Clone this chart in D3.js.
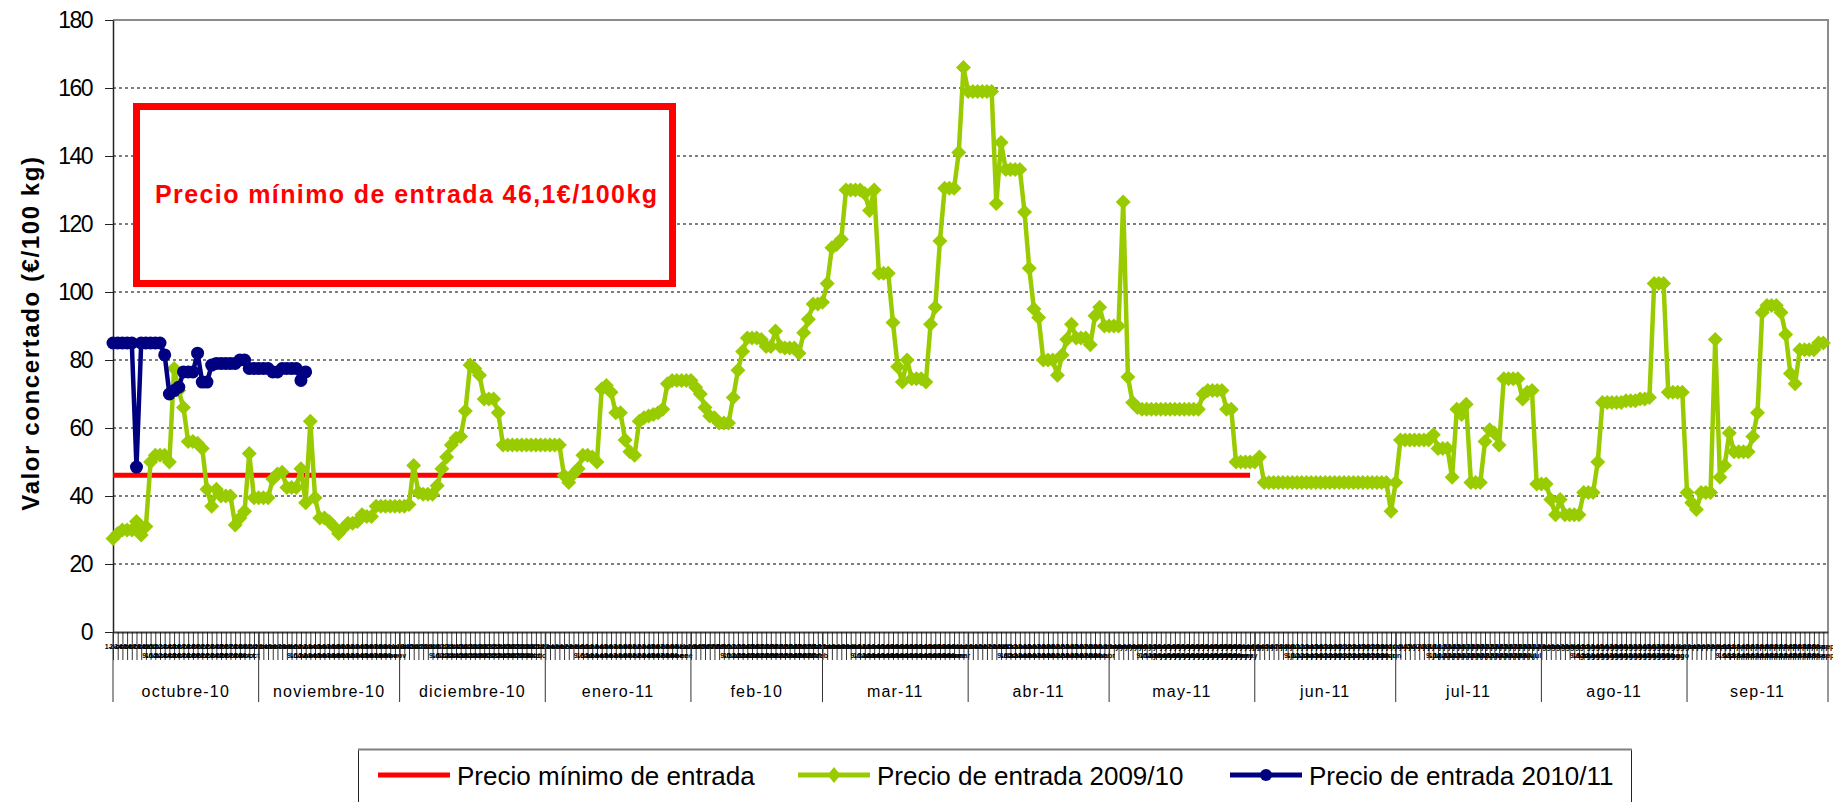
<!DOCTYPE html>
<html>
<head>
<meta charset="utf-8">
<script src="https://cdnjs.cloudflare.com/ajax/libs/d3/7.8.5/d3.min.js"></script>
<style>
    body { margin: 0; background: #fff; }
    text { font-family: "Liberation Sans", Arial, sans-serif; }
</style>
</head>
<body>
<svg id="chart" width="1833" height="802"></svg>
<script>
// etiquetas de los meses (segundo nivel del eje de categorias)
var meses = ["octubre-10", "noviembre-10", "diciembre-10", "enero-11", "feb-10", "mar-11",
             "abr-11", "may-11", "jun-11", "jul-11", "ago-11", "sep-11"];
var abrevMes = ["ene", "feb", "mar", "abr", "may", "jun", "jul", "ago", "sep", "oct", "nov", "dic"];

// Precio de entrada 2009/10, un valor por dia
var oct0910 = [27.5, 29, 30, 30, 30, 32.5, 28.5, 31, 50, 52, 52, 52, 50, 77.5, 71, 66, 56, 56, 55.5, 54,
               42, 37, 42, 40, 40, 40, 31.5, 33.5, 35.5, 52.5, 39.5];
var nov0910 = [39.5, 39.5, 39.5, 45, 46.5, 47, 42.5, 42.5, 42.5, 48, 38, 62, 39.5, 33.5, 33.5, 32.5, 31, 29, 30.5, 32,
               32, 32.5, 34.5, 34, 34, 37, 37, 37, 37, 37];
var dic0910 = [37, 37, 37.5, 49, 41, 40.5, 40.5, 40.5, 43, 48, 51.5, 55, 57, 57.5, 65, 78.5, 77.5, 75.5, 68.5, 68.5,
               68.5, 64.5, 55, 55, 55, 55, 55, 55, 55, 55, 55];
var ene0910 = [55, 55, 55, 55, 46, 44, 46.5, 48, 52, 52, 51.5, 50, 71.5, 72.5, 70.5, 64.5, 64.5, 56.5, 53, 52,
               62, 63, 63.5, 64, 64.5, 65.5, 73, 74, 74, 74, 74];
var feb0910 = [74, 72, 70, 66, 63.5, 63, 61.5, 61.5, 61.5, 69, 77, 82.5, 86.5, 86.5, 86.5, 86, 84, 84, 88.5, 84,
               83.5, 83.5, 83.5, 82, 88, 92, 96.5, 96.5];
var mar0910 = [97, 102.5, 113, 114, 115.5, 130, 130, 130, 130, 129, 124, 130, 105.5, 105.5, 105.5, 91, 78, 73.5, 80, 74.5,
               74.5, 74.5, 73.5, 90.5, 95.5, 115, 130.5, 130.5, 130.5, 141, 166];
var abr0910 = [159, 159, 159, 159, 159, 159, 126, 144, 136, 136, 136, 136, 123.5, 107, 95, 92.5, 80, 80, 80, 75.5,
               81.5, 86, 90.5, 86.5, 86.5, 86.5, 84.5, 93, 95.5, 90];
var may0910 = [90, 90, 90, 126.5, 75, 67.5, 66, 65.5, 65.5, 65.5, 65.5, 65.5, 65.5, 65.5, 65.5, 65.5, 65.5, 65.5, 65.5, 65.5,
               70, 71, 71, 71, 71, 65.5, 65.5, 50, 50, 50, 50];
var jun0910 = [50, 51.5, 44, 44, 44, 44, 44, 44, 44, 44, 44, 44, 44, 44, 44, 44, 44, 44, 44, 44,
               44, 44, 44, 44, 44, 44, 44, 44, 44, 35.5];
var jul0910 = [44, 56.5, 56.5, 56.5, 56.5, 56.5, 56.5, 56.5, 58, 54, 54, 54, 45.5, 65.5, 64, 67, 44, 44, 44, 56,
               59.5, 58.5, 55, 74.5, 74.5, 74.5, 74.5, 68.5, 70.5, 71, 43.5];
var ago0910 = [43.5, 43.5, 39, 34.5, 39, 34.5, 34.5, 34.5, 34.5, 41, 41, 41, 50, 67.5, 67.5, 67.5, 67.5, 67.5, 68, 68,
               68, 68.5, 68.5, 69, 102.5, 102.5, 102.5, 70.5, 70.5, 70.5, 70.5];
var sep0910 = [41, 38, 36, 41, 41, 41, 86, 45.5, 49, 58.5, 53, 53, 53, 53, 57.5, 64.5, 94, 96, 96, 96,
               94, 87.5, 76, 73, 83, 83, 83, 83, 85, 85];

// Precio de entrada 2010/11 (solo hasta principios de noviembre)
var precio1011 = [85, 85, 85, 85, 85, 48.5, 85, 85, 85, 85, 85, 81.5, 70, 71, 72, 76.5, 76.5, 76.5, 82, 73.5,
                  73.5, 78.5, 79, 79, 79, 79, 79, 80, 80, 77.5, 77.5, 77.5, 77.5, 77.5, 76.5, 76.5, 77.5, 77.5, 77.5, 77.5,
                  74, 76.5];

var precioMinimo = 46.1;
var diasPrecioMinimo = 243;   // octubre a mayo
var ticksY = [0, 20, 40, 60, 80, 100, 120, 140, 160, 180];

var precio0910 = [].concat(oct0910, nov0910, dic0910, ene0910, feb0910, mar0910,
                           abr0910, may0910, jun0910, jul0910, ago0910, sep0910);

var gfx = {};

function initialise() {
    gfx.svg = d3.select("#chart");
    gfx.inicio = new Date(Date.UTC(2010, 9, 1));
    gfx.fin = new Date(Date.UTC(2011, 9, 1));
    gfx.dias = d3.utcDay.range(gfx.inicio, gfx.fin);
    gfx.x = d3.scaleUtc().domain([gfx.inicio, gfx.fin]).range([113, 1828]);
    gfx.y = d3.scaleLinear().domain([0, 180]).range([632, 20]);

    gfx.svg.append("rect").attr("width", 1833).attr("height", 802).attr("fill", "#fff");

    drawGrid();
    drawAxes();
    drawBox();
    drawSeries();
    drawLegend();
}

function drawGrid() {
    var y = gfx.y;
    gfx.svg.append("g").attr("class", "grid")
        .selectAll("line")
        .data(ticksY.filter(d => d > 0 && d < 180))
        .enter().append("line")
        .attr("x1", 113).attr("x2", 1828)
        .attr("y1", d => y(d)).attr("y2", d => y(d))
        .attr("stroke", "#000").attr("stroke-width", 1)
        .attr("stroke-dasharray", "3,3");

    // borde superior y derecho del area de trazado
    gfx.svg.append("path")
        .attr("d", "M113," + gfx.y(180) + "H1828V632")
        .attr("fill", "none").attr("stroke", "#8c8c8c").attr("stroke-width", 2);
}

function drawAxes() {
    var x = gfx.x, y = gfx.y;

    var yAxis = gfx.svg.append("g")
        .attr("transform", "translate(113,0)")
        .call(d3.axisLeft(y).tickValues(ticksY).tickSize(8).tickSizeOuter(0).tickPadding(13));
    yAxis.select(".domain").attr("stroke", "#222").attr("stroke-width", 1.5);
    yAxis.selectAll(".tick line").attr("stroke", "#222");
    yAxis.selectAll(".tick text")
        .attr("font-size", 23).attr("fill", "#000")
        .attr("letter-spacing", "-1.5px")
        .attr("font-family", "Liberation Sans, Arial, sans-serif");

    gfx.svg.append("text")
        .attr("transform", "translate(39,333) rotate(-90)")
        .attr("text-anchor", "middle")
        .attr("font-size", 24).attr("font-weight", "bold")
        .attr("letter-spacing", "1.6px")
        .text("Valor concertado (€/100 kg)");

    // eje de categorias: una marca por dia
    var xAxis = gfx.svg.append("g")
        .attr("transform", "translate(0,632)")
        .call(d3.axisBottom(x).tickValues(gfx.dias).tickSize(28).tickSizeOuter(0).tickFormat(""));
    xAxis.select(".domain").attr("stroke", "#444").attr("stroke-width", 2);
    xAxis.selectAll(".tick line").attr("stroke", "#000").attr("stroke-width", 0.8);

    // etiquetas diarias diminutas (se solapan como en el original)
    var etiquetas = gfx.svg.append("g").attr("class", "dias");
    etiquetas.selectAll("text.d1")
        .data(gfx.dias)
        .enter().append("text").attr("class", "d1")
        .attr("x", d => x(d)).attr("y", 649)
        .attr("text-anchor", "middle").attr("font-size", 7).attr("font-weight", "bold")
        .text(d => d.getUTCDate() + "-" + abrevMes[d.getUTCMonth()]);
    etiquetas.selectAll("text.d2")
        .data(gfx.dias.filter(d => d.getUTCDate() >= 9 && d.getUTCDate() <= 30))
        .enter().append("text").attr("class", "d2")
        .attr("x", d => x(d)).attr("y", 658)
        .attr("text-anchor", "middle").attr("font-size", 7).attr("font-weight", "bold")
        .text(d => d.getUTCDate() + "-" + abrevMes[d.getUTCMonth()]);

    // separadores y nombres de los meses
    var limites = d3.utcMonth.range(gfx.inicio, gfx.fin).concat([gfx.fin]);
    gfx.svg.append("g").attr("class", "meses")
        .selectAll("line")
        .data(limites)
        .enter().append("line")
        .attr("x1", d => x(d)).attr("x2", d => x(d))
        .attr("y1", 632).attr("y2", 702)
        .attr("stroke", "#333").attr("stroke-width", 1);

    gfx.svg.append("g").attr("class", "nombresMes")
        .selectAll("text")
        .data(meses)
        .enter().append("text")
        .attr("x", (d, i) => (x(limites[i]) + x(limites[i + 1])) / 2)
        .attr("y", 697)
        .attr("text-anchor", "middle")
        .attr("font-size", 16).attr("letter-spacing", "1.2px")
        .text(d => d);
}

function drawBox() {
    gfx.svg.append("rect")
        .attr("x", 136.5).attr("y", 106.5)
        .attr("width", 536).attr("height", 177)
        .attr("fill", "#fff").attr("stroke", "#ff0000").attr("stroke-width", 7);
    gfx.svg.append("text")
        .attr("x", 155).attr("y", 203)
        .attr("font-size", 25).attr("font-weight", "bold")
        .attr("letter-spacing", "1.4px")
        .attr("fill", "#ff0000")
        .text("Precio mínimo de entrada 46,1€/100kg");
}

function drawSeries() {
    var x = gfx.x, y = gfx.y, dias = gfx.dias;
    var linea = d3.line().x((v, i) => x(dias[i])).y(v => y(v));

    var minimo = dias.slice(0, diasPrecioMinimo).map(() => precioMinimo);
    gfx.svg.append("path")
        .attr("d", linea(minimo))
        .attr("fill", "none").attr("stroke", "#ff0000").attr("stroke-width", 5);

    var verde = gfx.svg.append("g").attr("class", "s0910");
    verde.append("path")
        .attr("d", linea(precio0910))
        .attr("fill", "none").attr("stroke", "#99cc00").attr("stroke-width", 4.5)
        .attr("stroke-linejoin", "round");
    verde.selectAll("path.m")
        .data(precio0910)
        .enter().append("path").attr("class", "m")
        .attr("transform", (v, i) => "translate(" + x(dias[i]) + "," + y(v) + ")")
        .attr("d", "M0,-7.5L7.5,0L0,7.5L-7.5,0Z")
        .attr("fill", "#99cc00");

    var azul = gfx.svg.append("g").attr("class", "s1011");
    azul.append("path")
        .attr("d", linea(precio1011))
        .attr("fill", "none").attr("stroke", "#000080").attr("stroke-width", 4.5)
        .attr("stroke-linejoin", "round");
    azul.selectAll("circle")
        .data(precio1011)
        .enter().append("circle")
        .attr("cx", (v, i) => x(dias[i])).attr("cy", v => y(v))
        .attr("r", 6.5).attr("fill", "#000080");
}

function drawLegend() {
    var leyenda = gfx.svg.append("g").attr("class", "leyenda");
    leyenda.append("rect")
        .attr("x", 358.5).attr("y", 749.5).attr("width", 1273).attr("height", 70)
        .attr("fill", "#fff").attr("stroke", "#222").attr("stroke-width", 1);
    leyenda.append("line")
        .attr("x1", 358).attr("x2", 1632).attr("y1", 749.5).attr("y2", 749.5)
        .attr("stroke", "#808080").attr("stroke-width", 2);

    var items = [
        { texto: "Precio mínimo de entrada", color: "#ff0000", x: 378, marca: null },
        { texto: "Precio de entrada 2009/10", color: "#99cc00", x: 798, marca: "diamante" },
        { texto: "Precio de entrada 2010/11", color: "#000080", x: 1230, marca: "circulo" }
    ];
    var cy = 775;
    var g = leyenda.selectAll("g.item").data(items).enter().append("g").attr("class", "item");
    g.append("line")
        .attr("x1", d => d.x).attr("x2", d => d.x + 72)
        .attr("y1", cy).attr("y2", cy)
        .attr("stroke", d => d.color).attr("stroke-width", 5);
    g.filter(d => d.marca === "diamante").append("path")
        .attr("transform", d => "translate(" + (d.x + 36) + "," + cy + ")")
        .attr("d", "M0,-8L6.5,0L0,8L-6.5,0Z").attr("fill", d => d.color);
    g.filter(d => d.marca === "circulo").append("circle")
        .attr("cx", d => d.x + 36).attr("cy", cy).attr("r", 6).attr("fill", d => d.color);
    g.append("text")
        .attr("x", d => d.x + 79).attr("y", cy + 9.5)
        .attr("font-size", 26)
        .text(d => d.texto);
}

initialise();
</script>
</body>
</html>
